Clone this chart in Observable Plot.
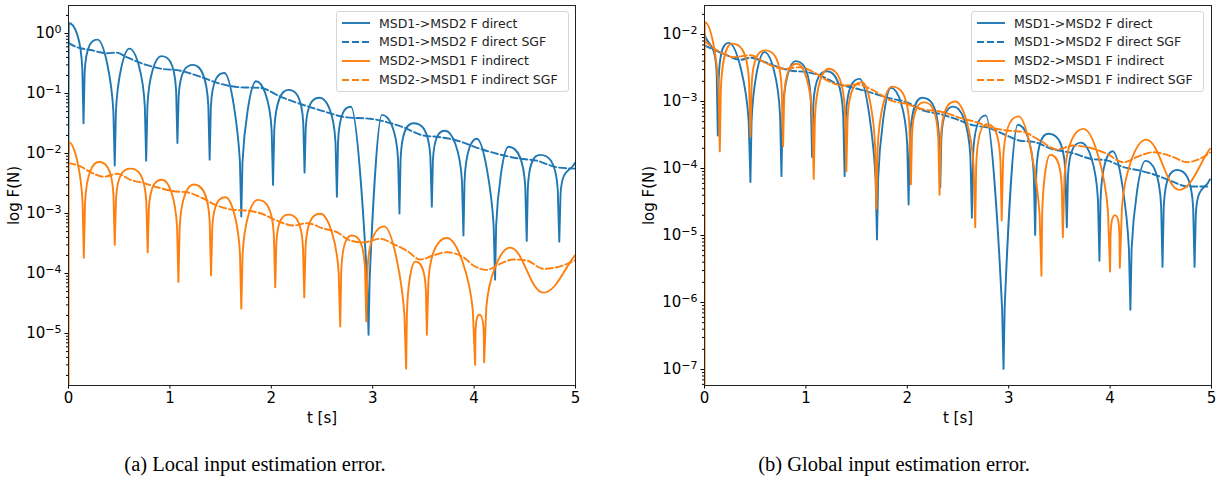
<!DOCTYPE html>
<html>
<head>
<meta charset="utf-8">
<script src="https://cdn.jsdelivr.net/npm/d3@7"></script>
<script src="https://cdn.jsdelivr.net/npm/@observablehq/plot@0.6"></script>
<style>
  body { margin: 0; background: #fff; }
  #wrap { position: relative; width: 1225px; height: 489px; overflow: hidden; background: #fff; }
  .panel { position: absolute; top: 0; }
  .legend { position: absolute; background: rgba(255,255,255,0.85); border: 1px solid #d6d6d6; border-radius: 3px;
            box-sizing: border-box; font-family: "DejaVu Sans"; font-size: 12.5px; color: #222; }
  .row { position: absolute; left: 0; height: 19px; display: flex; align-items: center; white-space: nowrap; }
  .row svg { margin-left: 5px; margin-right: 9px; }
  .cap { position: absolute; top: 453px; font-family: "Liberation Serif"; font-size: 20.5px; color: #000; white-space: nowrap; transform: translateX(-50%); }
</style>
</head>
<body>
<div id="wrap"></div>
<script>
// ---------------- data ----------------
const seriesNames = ["MSD1->MSD2 F direct", "MSD1->MSD2 F direct SGF", "MSD2->MSD1 F indirect", "MSD2->MSD1 F indirect SGF"];
const seriesColors = ["#1f77b4", "#1f77b4", "#ff7f0e", "#ff7f0e"];
const seriesDashed = [false, true, false, true];
const captions = ["(a) Local input estimation error.", "(b) Global input estimation error."];
const xTicks = [0, 1, 2, 3, 4, 5];
const minorMultiples = [2, 3, 4, 5, 6, 7, 8, 9];

// (a) local
const localYTicks = [1e-5, 1e-4, 1e-3, 1e-2, 1e-1, 1];
const localYTickExp = ["−5", "−4", "−3", "−2", "−1", "0"];
const localDirectT = [0, 0.003, 0.148, 0.286, 0.456, 0.601, 0.766, 0.916, 1.074, 1.229, 1.392, 1.537, 1.704, 1.849, 2.017, 2.167, 2.328, 2.476, 2.647, 2.785, 2.959, 3.091, 3.264, 3.402, 3.583, 3.714, 3.895, 4.027, 4.207, 4.338, 4.519, 4.650, 4.84, 4.995];
const localDirectF = [1.0e-2, 1.5, 3.2e-2, 0.79, 6.3e-3, 0.56, 7.6e-3, 0.42, 1.5e-2, 0.30, 7.9e-3, 0.22, 8.9e-4, 0.16, 3.0e-3, 0.115, 4.8e-3, 8.5e-2, 1.9e-3, 6.0e-2, 9.5e-6, 4.4e-2, 1.0e-3, 3.2e-2, 1.3e-3, 2.4e-2, 4.3e-4, 1.76e-2, 7.9e-5, 1.3e-2, 3.5e-4, 9.5e-3, 3.4e-4, 7.0e-3];
const localDirectSgfT = [0, 0.086, 0.217, 0.381, 0.473, 0.578, 0.742, 0.906, 1.103, 1.3, 1.498, 1.695, 1.892, 2.089, 2.286, 2.493, 2.746, 2.975, 3.30, 3.498, 3.665, 3.83, 4.059, 4.224, 4.453, 4.618, 4.815, 5.0];
const localDirectSgfF = [0.69, 0.59, 0.53, 0.47, 0.48, 0.40, 0.31, 0.26, 0.24, 0.19, 0.145, 0.127, 0.124, 0.089, 0.067, 0.052, 0.040, 0.038, 0.0274, 0.020, 0.0187, 0.0165, 0.012, 0.0099, 0.0082, 0.0076, 0.0059, 0.0056];
const localIndirectT = [0, 0.003, 0.151, 0.299, 0.456, 0.611, 0.781, 0.923, 1.084, 1.235, 1.406, 1.547, 1.704, 1.865, 2.039, 2.17, 2.325, 2.483, 2.68, 2.795, 2.936, 3.113, 3.33, 3.419, 3.534, 3.731, 4.01, 4.052, 4.099, 4.355, 4.683, 4.995];
const localIndirectF = [1e-8, 1.54e-2, 1.83e-4, 7.2e-3, 3.0e-4, 5.6e-3, 2.26e-4, 3.65e-3, 7.2e-5, 3.04e-3, 9.3e-5, 1.87e-3, 2.6e-5, 1.69e-3, 5.9e-5, 9.6e-4, 4.0e-5, 9.9e-4, 1.31e-5, 4.3e-4, 1.6e-5, 6.1e-4, 2.6e-6, 1.58e-4, 9.5e-6, 3.9e-4, 3.0e-6, 2.05e-5, 3.3e-6, 2.7e-4, 4.8e-5, 2.0e-4];
const localIndirectSgfT = [0, 0.118, 0.217, 0.348, 0.48, 0.611, 0.742, 0.874, 1.037, 1.169, 1.3, 1.465, 1.629, 1.76, 1.892, 2.056, 2.22, 2.352, 2.515, 2.647, 2.778, 2.909, 3.074, 3.205, 3.337, 3.468, 3.599, 3.731, 3.895, 3.993, 4.125, 4.256, 4.387, 4.519, 4.683, 4.815, 4.995];
const localIndirectSgfF = [6.9e-3, 6.1e-3, 4.9e-3, 4.1e-3, 4.6e-3, 3.65e-3, 3.2e-3, 2.74e-3, 2.35e-3, 2.26e-3, 1.87e-3, 1.36e-3, 1.15e-3, 1.12e-3, 1.01e-3, 7.6e-4, 6.3e-4, 6.9e-4, 5.6e-4, 4.9e-4, 3.55e-4, 3.3e-4, 3.8e-4, 3.1e-4, 2.4e-4, 1.71e-4, 2.0e-4, 2.26e-4, 1.87e-4, 1.36e-4, 1.15e-4, 1.45e-4, 1.71e-4, 1.65e-4, 1.2e-4, 1.27e-4, 1.65e-4];

// (b) global
const globalYTicks = [1e-7, 1e-6, 1e-5, 1e-4, 1e-3, 1e-2];
const globalYTickExp = ["−7", "−6", "−5", "−4", "−3", "−2"];
const globalDirectT = [0, 0.131, 0.239, 0.453, 0.591, 0.759, 0.897, 1.061, 1.209, 1.382, 1.530, 1.701, 1.839, 2.013, 2.145, 2.325, 2.456, 2.637, 2.773, 2.949, 3.089, 3.261, 3.392, 3.573, 3.714, 3.895, 4.025, 4.2, 4.348, 4.517, 4.66, 4.833, 4.985];
const globalDirectF = [1.0e-2, 3.1e-4, 7.5e-3, 6.3e-5, 5.45e-3, 7.7e-5, 4.0e-3, 1.48e-4, 2.83e-3, 7.7e-5, 2.18e-3, 8.7e-6, 1.6e-3, 2.9e-5, 1.14e-3, 5.2e-5, 8.4e-4, 1.84e-5, 6.2e-4, 1.02e-7, 4.5e-4, 1.02e-5, 3.3e-4, 1.33e-5, 2.43e-4, 4.2e-6, 1.81e-4, 7.8e-7, 1.3e-4, 3.4e-6, 9.5e-5, 3.4e-6, 6.9e-5];
const globalDirectSgfT = [0, 0.19, 0.355, 0.453, 0.552, 0.716, 0.847, 1.012, 1.143, 1.307, 1.471, 1.668, 1.813, 1.997, 2.16, 2.325, 2.49, 2.653, 2.785, 2.982, 3.113, 3.244, 3.441, 3.638, 3.803, 3.967, 4.131, 4.296, 4.46, 4.624, 4.756, 4.985];
const globalDirectSgfF = [6.9e-3, 5.15e-3, 4.2e-3, 4.5e-3, 4.1e-3, 3.3e-3, 2.9e-3, 2.74e-3, 2.44e-3, 1.84e-3, 1.6e-3, 1.32e-3, 1.13e-3, 9.7e-4, 7.3e-4, 6.5e-4, 5.4e-4, 4.4e-4, 4.1e-4, 3.1e-4, 2.6e-4, 2.5e-4, 1.92e-4, 1.69e-4, 1.4e-4, 1.32e-4, 1.05e-4, 9.3e-5, 7.9e-5, 6.3e-5, 5.4e-5, 5.4e-5];
const globalIndirectT = [0, 0.003, 0.151, 0.273, 0.453, 0.601, 0.775, 0.913, 1.077, 1.225, 1.399, 1.554, 1.695, 1.849, 2.036, 2.167, 2.318, 2.473, 2.67, 2.785, 2.931, 3.097, 3.323, 3.409, 3.534, 3.737, 4.0, 4.049, 4.096, 4.355, 4.683, 4.985];
const globalIndirectF = [1e-9, 1.53e-2, 1.8e-4, 7.3e-3, 3.0e-4, 5.8e-3, 2.15e-4, 3.66e-3, 7.0e-5, 3.08e-3, 9.1e-5, 1.94e-3, 2.5e-5, 1.67e-3, 5.8e-5, 9.7e-4, 4.05e-5, 1.0e-3, 1.33e-5, 4.6e-4, 1.67e-5, 6.0e-4, 2.5e-6, 1.6e-4, 9.4e-6, 3.9e-4, 2.9e-6, 2.0e-5, 3.3e-6, 2.7e-4, 4.8e-5, 1.97e-4];
const globalIndirectSgfT = [0, 0.125, 0.289, 0.453, 0.618, 0.781, 0.946, 1.077, 1.209, 1.372, 1.504, 1.668, 1.833, 1.997, 2.16, 2.325, 2.555, 2.687, 2.818, 2.982, 3.146, 3.31, 3.475, 3.638, 3.803, 3.967, 4.131, 4.296, 4.427, 4.624, 4.756, 4.887, 4.985];
const globalIndirectSgfF = [8.0e-3, 5.8e-3, 4.6e-3, 4.9e-3, 3.66e-3, 3.08e-3, 3.25e-3, 2.74e-3, 2.06e-3, 1.73e-3, 1.8e-3, 1.46e-3, 1.04e-3, 9.2e-4, 7.6e-4, 7.1e-4, 5.5e-4, 4.9e-4, 4.1e-4, 3.7e-4, 3.5e-4, 2.6e-4, 1.92e-4, 2.2e-4, 2.04e-4, 1.66e-4, 1.24e-4, 1.56e-4, 1.75e-4, 1.48e-4, 1.24e-4, 1.4e-4, 1.73e-4];

// ---------------- line shape: round tops, needle-like dips on a log axis ----------------
function archCurve(dec) {
  return (ctx) => {
    let p = [];
    return {
      areaStart() {}, areaEnd() {},
      lineStart() { p = []; },
      point(x, y) { p.push([+x, +y]); },
      lineEnd() { drawArch(ctx, p, dec); }
    };
  };
}
function drawArch(ctx, p, dec) {
  const n = p.length;
  if (!n) return;
  ctx.moveTo(p[0][0], p[0][1]);
  if (n === 1) return;
  const kind = p.map((q, i) => {
    if (i === 0 || i === n - 1) return "end";
    const a = p[i - 1][1], b = q[1], c = p[i + 1][1];
    if (b < a && b < c) return "flat";
    if (b > a && b > c) return Math.min(b - a, b - c) > 0.7 * dec ? "sharp" : "flat";
    return "pass";
  });
  const slope = (i) => (p[i + 1][1] - p[i - 1][1]) / ((p[i + 1][0] - p[i - 1][0]) || 1e-9);
  for (let i = 0; i < n - 1; i++) {
    const [x0, y0] = p[i], [x1, y1] = p[i + 1];
    const dx = x1 - x0, D = Math.abs(y1 - y0);
    const drop = Math.min(0.9 * dec, 0.6 * D);
    let sx = x0, sy = y0, ex = x1, ey = y1;
    if (kind[i] === "sharp") { sx = x0 + 0.08 * dx; sy = y0 - drop; ctx.lineTo(sx, sy); }
    if (kind[i + 1] === "sharp") { ex = x1 - 0.08 * dx; ey = y1 - drop; }
    const w = ex - sx;
    let c1x, c1y, c2x, c2y;
    switch (kind[i]) {
      case "sharp": c1x = sx + 0.1 * dx; c1y = sy - 0.6 * drop; break;
      case "flat": c1x = sx + 0.4 * w; c1y = sy; break;
      case "pass": { const m = slope(i); c1x = sx + w / 3; c1y = sy + m * w / 3; break; }
      default: c1x = sx + w / 3; c1y = sy + (ey - sy) / 3;
    }
    switch (kind[i + 1]) {
      case "sharp": c2x = ex - 0.1 * dx; c2y = ey - 0.6 * drop; break;
      case "flat": c2x = ex - 0.4 * w; c2y = ey; break;
      case "pass": { const m = slope(i + 1); c2x = ex - w / 3; c2y = ey - m * w / 3; break; }
      default: c2x = ex - w / 3; c2y = ey - (ey - sy) / 3;
    }
    ctx.bezierCurveTo(c1x, c1y, c2x, c2y, ex, ey);
    if (kind[i + 1] === "sharp") ctx.lineTo(x1, y1);
  }
}

// ---------------- panels ----------------
function makePanel(cfg) {
  const W = 612, H = 430, mt = 5, mb = 45;
  const [d0, d1] = cfg.yDomain;
  const dec = (H - mt - mb) / (Math.log10(d1) - Math.log10(d0));
  const minors = [];
  for (let e = Math.floor(Math.log10(d0)) - 1; e <= Math.ceil(Math.log10(d1)); e++)
    for (const m of minorMultiples) { const v = m * Math.pow(10, e); if (v >= d0 && v <= d1) minors.push(v); }
  const expOf = new Map(cfg.yTicks.map((v, i) => [v, cfg.yExp[i]]));
  const marks = [];
  cfg.series.forEach((s, k) => {
    const data = s.t.map((t, i) => ({ t, F: s.F[i] }));
    marks.push(Plot.line(data, {
      x: "t", y: "F", stroke: seriesColors[k], strokeWidth: 1.9,
      strokeDasharray: seriesDashed[k] ? "7,3" : undefined,
      curve: seriesDashed[k] ? "monotone-x" : archCurve(dec), clip: true
    }));
  });
  marks.push(
    Plot.axisY({ ticks: minors, tickSize: 2, tickFormat: () => "", label: null }),
    Plot.axisY({ ticks: cfg.yTicks, tickSize: 3.5, tickPadding: 3.5, tickFormat: (d) => "10^" + expOf.get(d),
                 label: "log F(N)", labelAnchor: "center", labelOffset: cfg.labelOffset, labelArrow: false }),
    Plot.axisX({ ticks: xTicks, tickSize: 3.5, tickPadding: 3, tickFormat: (d) => String(d),
                 label: "t [s]", labelAnchor: "center", labelOffset: 37, labelArrow: false }),
    Plot.frame({ stroke: "#222", strokeWidth: 1 })
  );
  const svg = Plot.plot({
    width: W, height: H, marginTop: mt, marginBottom: mb,
    marginLeft: cfg.marginLeft, marginRight: cfg.marginRight,
    style: { fontFamily: "DejaVu Sans", fontSize: "15px", background: "white", color: "#000", overflow: "visible" },
    x: { domain: [0, 5] },
    y: { type: "log", domain: cfg.yDomain },
    marks
  });
  // matplotlib-like superscript exponents
  svg.querySelectorAll('[aria-label="y-axis tick label"] text').forEach((el) => {
    const s = el.textContent;
    if (!s.includes("^")) return;
    const [b, e] = s.split("^");
    el.textContent = "";
    const ns = "http://www.w3.org/2000/svg";
    const t1 = document.createElementNS(ns, "tspan"); t1.textContent = b;
    const t2 = document.createElementNS(ns, "tspan"); t2.textContent = e;
    t2.setAttribute("dy", "-0.45em"); t2.setAttribute("font-size", "11px");
    el.append(t1, t2);
  });
  return svg;
}

const wrap = document.getElementById("wrap");
const panels = [
  { left: 0, marginLeft: 68, marginRight: 37, labelOffset: 60, yDomain: [1.36e-6, 2.93], yTicks: localYTicks, yExp: localYTickExp,
    series: [{ t: localDirectT, F: localDirectF }, { t: localDirectSgfT, F: localDirectSgfF },
             { t: localIndirectT, F: localIndirectF }, { t: localIndirectSgfT, F: localIndirectSgfF }],
    legend: { left: 336, top: 11, width: 233, height: 81 }, cap: 255 },
  { left: 612, marginLeft: 92, marginRight: 13, labelOffset: 61, yDomain: [5.77e-8, 2.71e-2], yTicks: globalYTicks, yExp: globalYTickExp,
    series: [{ t: globalDirectT, F: globalDirectF }, { t: globalDirectSgfT, F: globalDirectSgfF },
             { t: globalIndirectT, F: globalIndirectF }, { t: globalIndirectSgfT, F: globalIndirectSgfF }],
    legend: { left: 971, top: 11, width: 233, height: 81 }, cap: 894 }
];
panels.forEach((cfg, pi) => {
  const div = document.createElement("div");
  div.className = "panel";
  div.style.left = cfg.left + "px";
  div.appendChild(makePanel(cfg));
  wrap.appendChild(div);

  const lg = document.createElement("div");
  lg.className = "legend";
  Object.assign(lg.style, { left: cfg.legend.left + "px", top: cfg.legend.top + "px", width: cfg.legend.width + "px", height: cfg.legend.height + "px" });
  seriesNames.forEach((name, k) => {
    const row = document.createElement("div");
    row.className = "row";
    row.style.top = (1.5 + k * 18.9) + "px";
    row.innerHTML = `<svg width="28" height="6"><line x1="0" y1="3" x2="28" y2="3" stroke="${seriesColors[k]}" stroke-width="1.9" ${seriesDashed[k] ? 'stroke-dasharray="7,3"' : ""}/></svg><span>${name.replace(/>/g, "&gt;")}</span>`;
    lg.appendChild(row);
  });
  wrap.appendChild(lg);

  const cap = document.createElement("div");
  cap.className = "cap";
  cap.style.left = cfg.cap + "px";
  cap.textContent = captions[pi];
  wrap.appendChild(cap);
});
</script>
</body>
</html>
